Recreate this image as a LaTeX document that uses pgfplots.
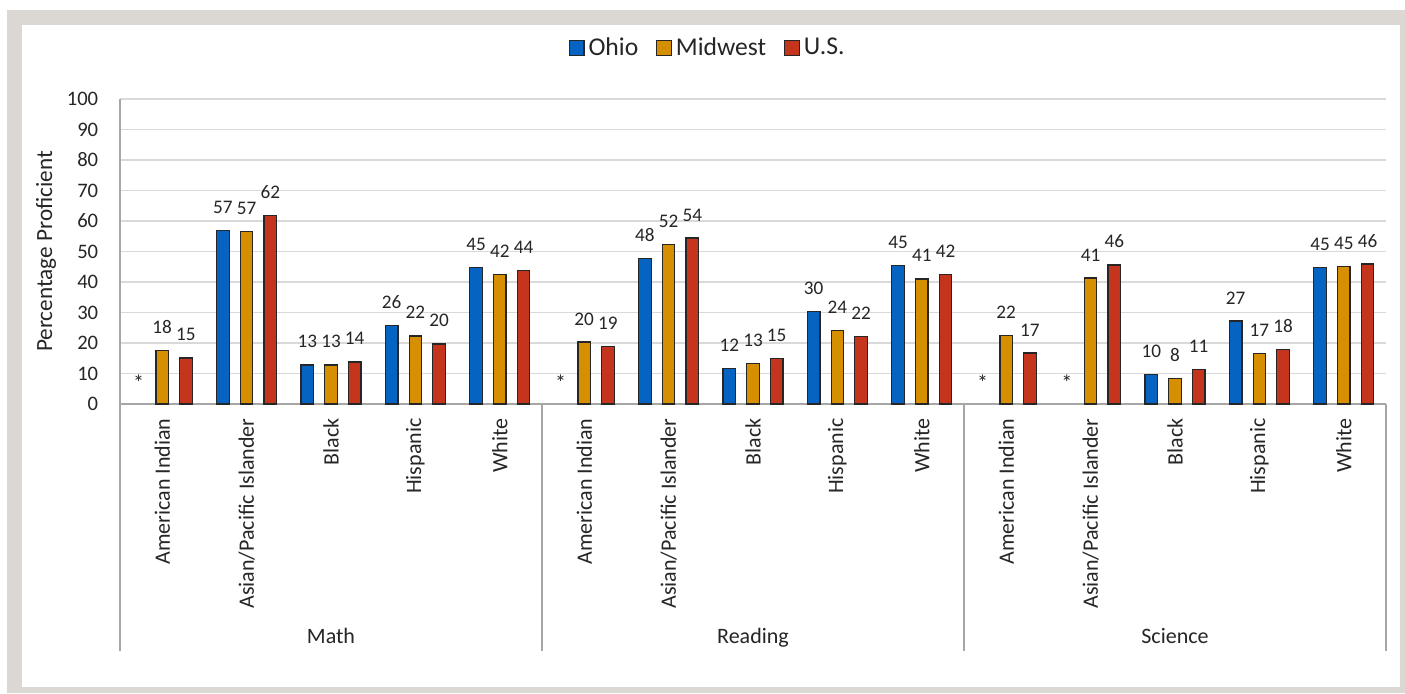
\documentclass[border=0pt]{standalone}
\usepackage{fontspec}
\setmainfont{Carlito}
\usepackage{pgfplots}
\pgfplotsset{compat=1.18}
\usepackage{pgfplotstable}
\definecolor{ohio}{RGB}{5,99,193}
\definecolor{midw}{RGB}{214,143,0}
\definecolor{usa}{RGB}{197,53,30}
\definecolor{edge}{RGB}{38,38,38}
\definecolor{textc}{RGB}{38,38,38}
\definecolor{gridc}{RGB}{217,217,217}
\definecolor{axisc}{RGB}{166,166,166}
\definecolor{framec}{RGB}{219,215,211}

\pgfplotstableread{
x y
1 57.0
2 12.8
3 25.8
4 44.8
6 47.8
7 11.7
8 30.3
9 45.3
12 9.8
13 27.2
14 44.8
}\ohiotab
\pgfplotstableread{
x y
0 17.6
1 56.6
2 12.8
3 22.3
4 42.4
5 20.3
6 52.4
7 13.2
8 24.1
9 41.0
10 22.4
11 41.3
12 8.4
13 16.6
14 45.0
}\midtab
\pgfplotstableread{
x y
0 15.1
1 61.7
2 13.8
3 19.7
4 43.8
5 18.9
6 54.4
7 15.0
8 22.1
9 42.4
10 16.7
11 45.6
12 11.3
13 17.9
14 45.9
}\ustab

\begin{document}
\begin{tikzpicture}
\useasboundingbox (0,0) rectangle (702.5pt,-346.5pt);
\fill[framec] (3.5pt,-5pt) rectangle (702.5pt,-346.5pt);
\fill[white] (11pt,-12.5pt) rectangle (700pt,-343.5pt);
\begin{axis}[
  at={(60pt,-202pt)}, anchor=south west,
  scale only axis, width=633pt, height=152.5pt,
  xmin=-0.5, xmax=14.5, ymin=0, ymax=100,
  clip=false,
  ytick={0,10,...,100},
  xtick={0,...,14},
  xticklabels={American Indian,Asian/Pacific Islander,Black,Hispanic,White,
               American Indian,Asian/Pacific Islander,Black,Hispanic,White,
               American Indian,Asian/Pacific Islander,Black,Hispanic,White},
  axis x line*=bottom, axis y line*=left,
  axis line style={draw=axisc, line width=0.75pt},
  ymajorgrids, grid style={draw=gridc, line width=0.75pt},
  major tick length=0pt,
  /pgf/number format/assume math mode=true,
  yticklabel style={font=\fontsize{10.3}{12}\selectfont, text=textc, xshift=-7.4pt},
  xticklabel style={font=\fontsize{11}{13}\selectfont, text=textc, inner sep=0pt, yshift=-7pt, rotate=90, anchor=east},
  ylabel={Percentage Proficient},
  ylabel style={at={(axis description cs:-0.0537,0.5)}, anchor=base, rotate=0, font=\fontsize{11.6}{14}\selectfont, text=textc},
  legend style={at={(axis description cs:0.465,1.167)}, anchor=center, draw=none, fill=none,
                font=\fontsize{12.8}{15}\selectfont, text=textc, legend columns=3,
                /tikz/every even column/.append style={column sep=7pt}},
  legend image code/.code={\draw[#1,draw=edge,line width=0.6pt] (0pt,-3.6pt) rectangle (7.2pt,3.6pt);},
  every axis plot/.append style={},
]
\addplot[ybar, bar width=0.148, bar shift=0, fill=ohio, draw=edge, line width=0.6pt,
  nodes near coords={\pgfmathprintnumber[fixed,precision=0]{\pgfplotspointmeta}},
  nodes near coords style={anchor=base, yshift=8.5pt, font=\fontsize{9.6}{11}\selectfont, text=textc}]
  table[x expr=\thisrow{x}-0.281, y=y] {\ohiotab};
\addplot[ybar, bar width=0.148, bar shift=0, fill=midw, draw=edge, line width=0.6pt,
  nodes near coords={\pgfmathprintnumber[fixed,precision=0]{\pgfplotspointmeta}},
  nodes near coords style={anchor=base, yshift=8.5pt, font=\fontsize{9.6}{11}\selectfont, text=textc}]
  table[x expr=\thisrow{x}, y=y] {\midtab};
\addplot[ybar, bar width=0.148, bar shift=0, fill=usa, draw=edge, line width=0.6pt,
  nodes near coords={\pgfmathprintnumber[fixed,precision=0]{\pgfplotspointmeta}},
  nodes near coords style={anchor=base, yshift=8.5pt, font=\fontsize{9.6}{11}\selectfont, text=textc}]
  table[x expr=\thisrow{x}+0.281, y=y] {\ustab};
\addplot[draw=none, mark=none, forget plot, point meta=explicit symbolic,
  nodes near coords=\pgfplotspointmeta,
  nodes near coords style={anchor=center, font=\fontsize{11}{13}\selectfont, text=textc}]
  coordinates {(-0.281,7) [*] (4.719,7) [*] (9.719,7) [*] (10.719,7) [*]};
\legend{Ohio,Midwest,U.S.}
\draw[axisc, line width=0.75pt] (axis cs:-0.5,0) -- ++(0pt,-123.5pt);
\draw[axisc, line width=0.75pt] (axis cs:4.5,0) -- ++(0pt,-123.5pt);
\draw[axisc, line width=0.75pt] (axis cs:9.5,0) -- ++(0pt,-123.5pt);
\draw[axisc, line width=0.75pt] (axis cs:14.5,0) -- ++(0pt,-123.5pt);
\node[anchor=base, font=\fontsize{11}{13}\selectfont, text=textc, yshift=-119.5pt] at (axis cs:2,0) {Math};
\node[anchor=base, font=\fontsize{11}{13}\selectfont, text=textc, yshift=-119.5pt] at (axis cs:7,0) {Reading};
\node[anchor=base, font=\fontsize{11}{13}\selectfont, text=textc, yshift=-119.5pt] at (axis cs:12,0) {Science};
\end{axis}
\end{tikzpicture}
\end{document}
